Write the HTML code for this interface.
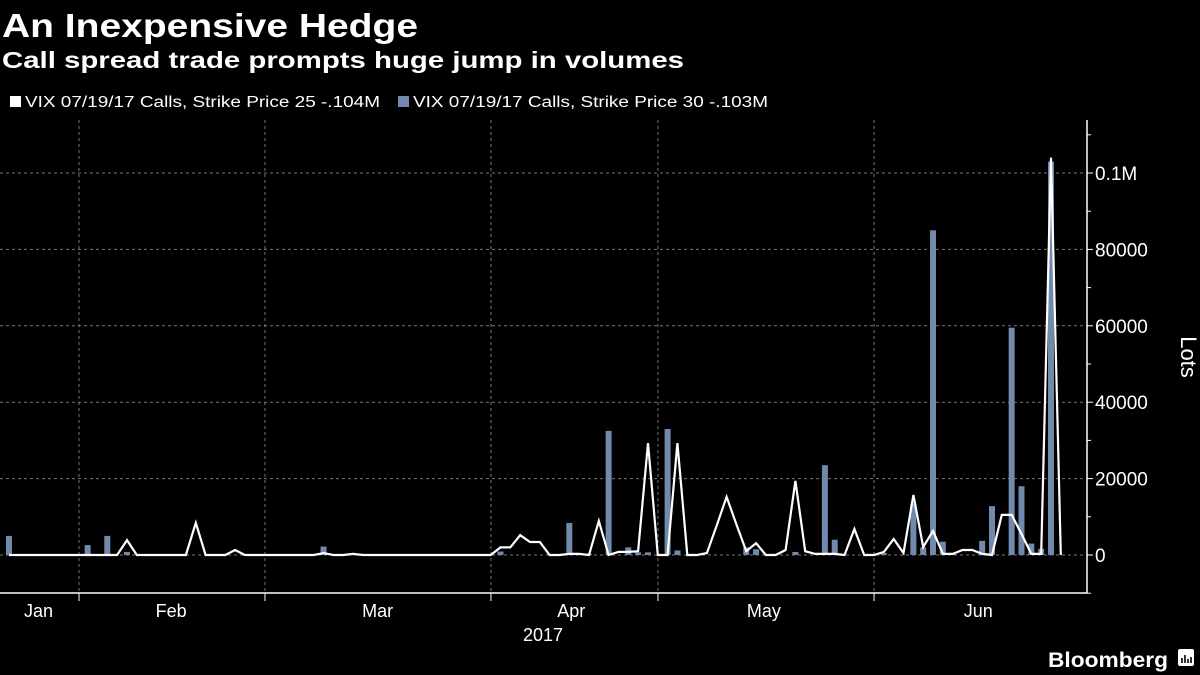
<!DOCTYPE html>
<html><head><meta charset="utf-8"><style>
html,body{margin:0;padding:0;background:#000;}
svg{display:block;font-family:"Liberation Sans",sans-serif;}
</style></head><body>
<svg id="chart" width="1200" height="675" viewBox="0 0 1200 675">
<rect x="0" y="0" width="1200" height="675" fill="#000"/>
<text x="2" y="37" fill="#fff" font-size="33" font-weight="bold" textLength="416" lengthAdjust="spacingAndGlyphs">An Inexpensive Hedge</text>
<text x="2" y="68" fill="#fff" font-size="23" font-weight="bold" textLength="682" lengthAdjust="spacingAndGlyphs">Call spread trade prompts huge jump in volumes</text>
<g>
<g>
<rect x="10" y="96" width="11" height="11" fill="#fff"/>
<text x="25" y="107" fill="#fff" font-size="15.5" textLength="355" lengthAdjust="spacingAndGlyphs">VIX 07/19/17 Calls, Strike Price 25 -.104M</text>
</g>
<g>
<rect x="398" y="96" width="11" height="11" fill="#7189ac"/>
<text x="413" y="107" fill="#fff" font-size="15.5" textLength="355" lengthAdjust="spacingAndGlyphs">VIX 07/19/17 Calls, Strike Price 30 -.103M</text>
</g>
</g>
<g id="grid"></g>
<g id="bars"></g>
<g id="lines"></g>
<g id="axes"></g>
<text x="1181" y="357" fill="#fff" font-size="22" text-anchor="middle" transform="rotate(90 1181 357)">Lots</text>
<g>
<text x="1168" y="667" fill="#fff" font-size="21" font-weight="bold" text-anchor="end" textLength="120" lengthAdjust="spacingAndGlyphs">Bloomberg</text>
<rect x="1178" y="649" width="16" height="17" rx="2" fill="#fff"/>
<path d="M1182 663v-5M1185 663v-8M1188 663v-4M1191 663v-6" stroke="#000" stroke-width="1.6"/>
</g>
</svg>
<script>
const lineValues = [0,0,0,0,0,0,0,0,0,0,0,0,3900,0,0,0,0,0,0,8400,0,0,0,1300,0,0,0,0,0,0,0,0,500,0,0,300,0,0,0,0,0,0,0,0,0,0,0,0,0,0,2000,2000,5200,3400,3400,0,0,300,300,0,8900,0,800,800,1000,29300,0,0,29300,0,0,500,7800,15200,8000,1000,3100,0,0,1300,19400,1000,300,300,300,0,6800,0,0,800,4200,500,15700,2100,6300,300,300,1300,1300,300,0,10500,10500,5500,300,300,104000,0];
const barIndex = [0,8,10,12,32,50,57,59,61,63,64,65,67,68,75,76,78,80,83,84,89,92,93,94,95,96,99,100,102,103,104,105,106];
const barValues = [5000,2600,5000,800,2200,900,8400,300,32500,2000,700,700,33000,1200,2000,1500,300,800,23500,4000,500,13500,2000,85000,3500,500,3700,12800,59500,18000,3000,1600,103000];
const yTicks = [0,20000,40000,60000,80000,100000];
const yTickLabels = ["0","20000","40000","60000","80000","0.1M"];
const monthBoundaries = [7.12,26.04,49.03,66.02,88.0];
const monthLabels = ["Jan","Feb","Mar","Apr","May","Jun"];
const monthLabelIdx = [3,16.5,37.5,57.2,76.8,98.6];

const NS="http://www.w3.org/2000/svg";
const X0=9, STEP=9.83, Y0=555, PX_PER=382/100000;
const AXIS_X=1087, TOP=120, BOT=593;
function xs(i){return X0+i*STEP;}
function ys(v){return Y0-v*PX_PER;}
function mk(tag,attrs,parent){const e=document.createElementNS(NS,tag);for(const k in attrs)e.setAttribute(k,attrs[k]);parent.appendChild(e);return e;}
const grid=document.getElementById('grid'), bars=document.getElementById('bars'), lines=document.getElementById('lines'), axes=document.getElementById('axes');

yTicks.forEach((v,k)=>{
  const g=mk('line',{x1:0,x2:AXIS_X,y1:ys(v),y2:ys(v),stroke:'#777','stroke-width':1,'stroke-dasharray':'3,3'},grid);
  
  
  const t=mk('text',{x:AXIS_X+8,y:ys(v)+7,fill:'#fff','font-size':19},axes);
  t.textContent=yTickLabels[k];
  
  
});
for(let v=-10000;v<=110000;v+=10000){
  const yy=ys(v); if(yy<TOP) continue;
  const major=v%20000===0&&v>=0&&v<=100000;
  const tk=mk('line',{x1:AXIS_X,x2:AXIS_X+(major?6:4),y1:yy,y2:yy,stroke:'#fff','stroke-width':1},axes);
  
  
}
monthBoundaries.forEach(b=>{
  const x=xs(b);
  const g=mk('line',{x1:x,x2:x,y1:TOP,y2:BOT,stroke:'#777','stroke-width':1,'stroke-dasharray':'3,3'},grid);
  
  
  const tk=mk('line',{x1:x,x2:x,y1:BOT,y2:BOT+8,stroke:'#fff','stroke-width':1},axes);
  
  
});
monthLabels.forEach((m,k)=>{
  const t=mk('text',{x:xs(monthLabelIdx[k]),y:617,fill:'#fff','font-size':18,'text-anchor':'middle'},axes);
  t.textContent=m;
  
  
});
const yr=mk('text',{x:543,y:641,fill:'#fff','font-size':18,'text-anchor':'middle'},axes);
yr.textContent='2017';


const ax1=mk('line',{x1:0,x2:AXIS_X,y1:BOT,y2:BOT,stroke:'#fff','stroke-width':1.5},axes);


const ax2=mk('line',{x1:AXIS_X,x2:AXIS_X,y1:TOP,y2:BOT,stroke:'#fff','stroke-width':1.5},axes);



barValues.forEach((v,k)=>{
  const x=xs(barIndex[k]);
  const r=mk('rect',{x:x-3,y:ys(v),width:6,height:Math.max(0.5,Y0-ys(v)),fill:'#7189ac'},bars);
  
  
});
const pts=lineValues.map((v,i)=>xs(i).toFixed(1)+','+ys(v).toFixed(1)).join(' ');
const pl=mk('polyline',{points:pts,fill:'none',stroke:'#fff','stroke-width':2.2,'stroke-linejoin':'miter'},lines);


</script>
</body></html>
